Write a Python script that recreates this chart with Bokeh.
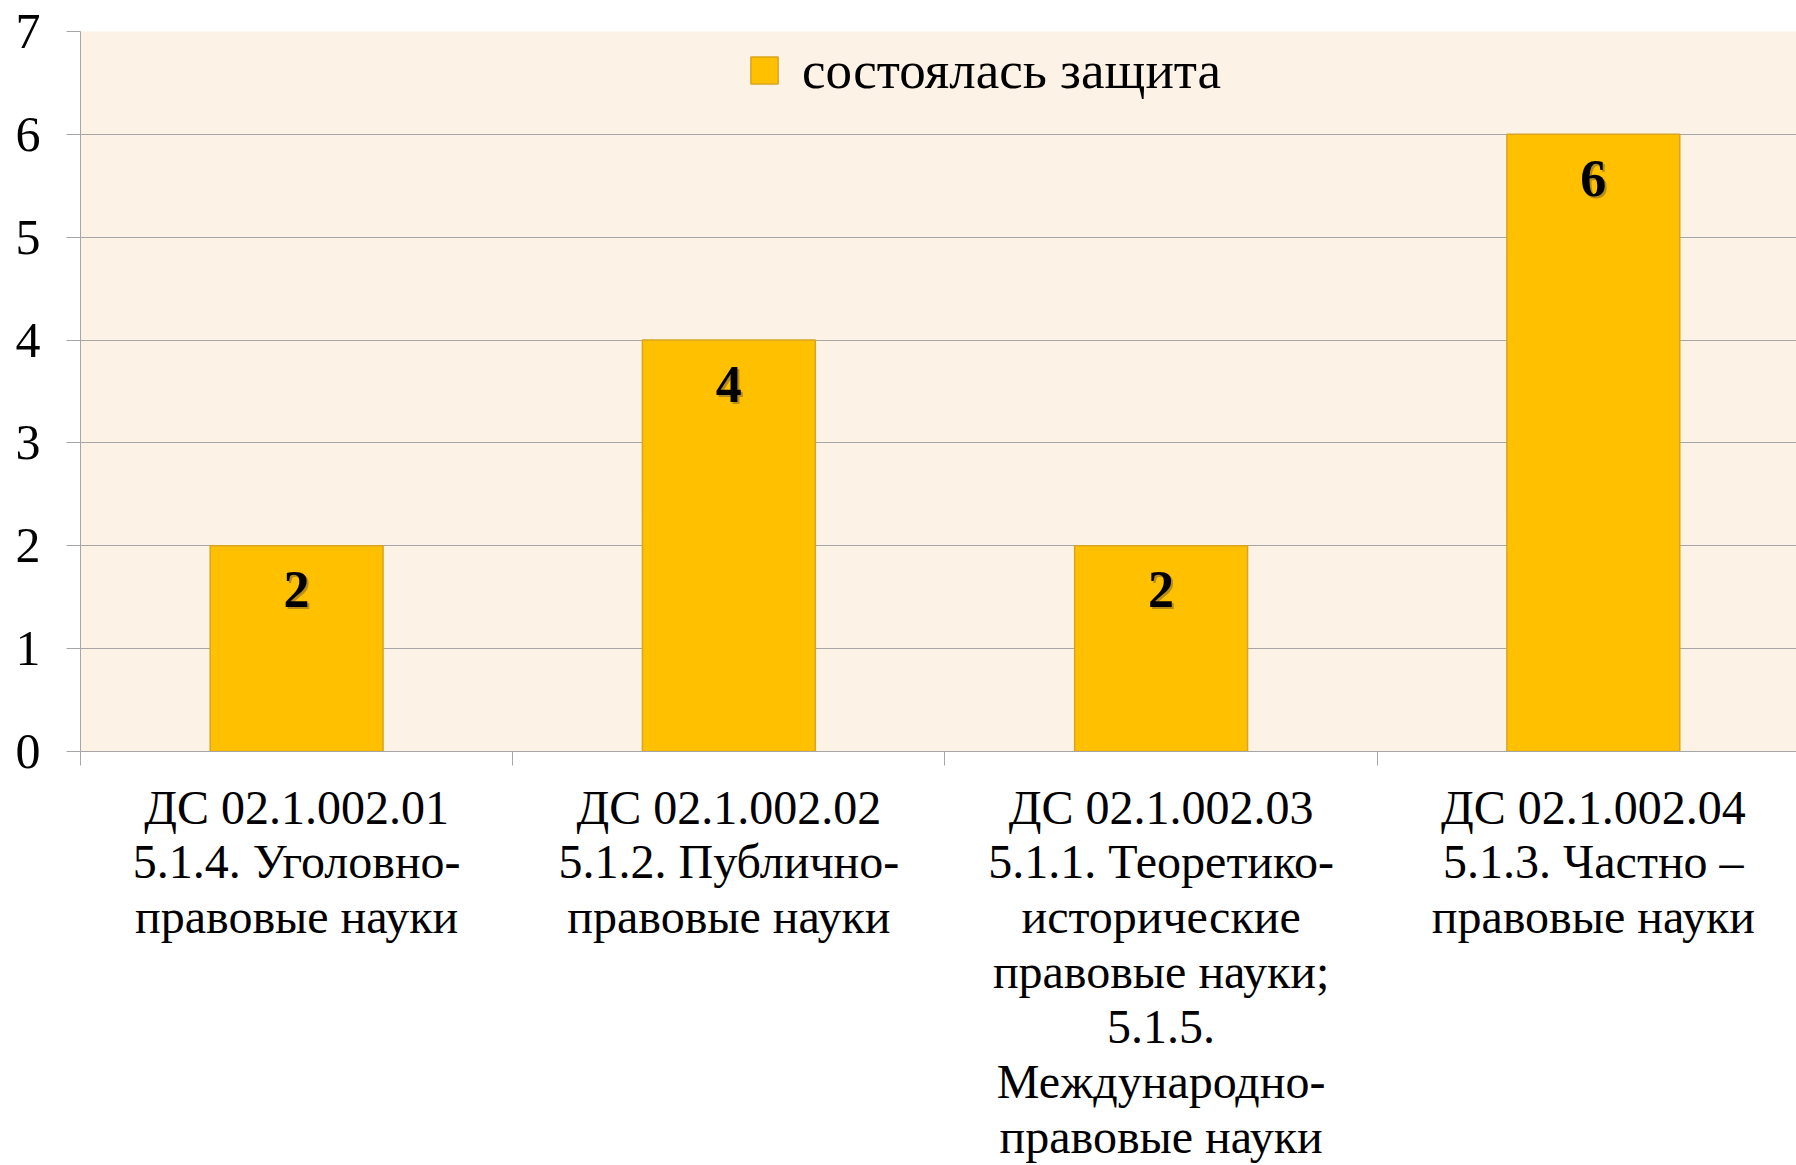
from bokeh.plotting import figure
from bokeh.models import Range1d, FixedTicker, ColumnDataSource, Legend, LegendItem
from bokeh.embed import file_html
from bokeh.resources import INLINE

categories = [
    "ДС 02.1.002.01\n5.1.4. Уголовно-\nправовые науки",
    "ДС 02.1.002.02\n5.1.2. Публично-\nправовые науки",
    "ДС 02.1.002.03\n5.1.1. Теоретико-\nисторические\nправовые науки;\n5.1.5.\nМеждународно-\nправовые науки",
    "ДС 02.1.002.04\n5.1.3. Частно –\nправовые науки",
]
values = [2, 4, 2, 6]
y_ticks = [0, 1, 2, 3, 4, 5, 6, 7]
series_name = "состоялась защита"

FONT = "Liberation Serif"
BAR = "#FFC000"
BAR_EDGE = "#D9A520"
GRID = "#A6A6A6"

n = len(categories)
x_pos = [i + 0.5 for i in range(n)]
src = ColumnDataSource(dict(x=x_pos, top=values, label=[str(v) for v in values]))

p = figure(width=1796, height=1165, x_range=Range1d(0, 3.970), y_range=Range1d(0, 7),
           output_backend="svg", toolbar_location=None,
           min_border_left=80, min_border_right=0, min_border_top=31, min_border_bottom=414)
p.background_fill_color = "#FDF2E6"
p.border_fill_color = "white"
p.outline_line_color = None

r = p.vbar(x="x", top="top", width=0.4, bottom=0, source=src,
           fill_color=BAR, line_color=BAR_EDGE, line_width=1.5)

# value labels with a soft shadow
p.text(x="x", y="top", text="label", source=src, x_offset=2, y_offset=46,
       text_font=FONT, text_font_style="bold", text_font_size="52px",
       text_align="center", text_baseline="middle", text_color="#6b5a30", text_alpha=0.5)
p.text(x="x", y="top", text="label", source=src, x_offset=0, y_offset=44,
       text_font=FONT, text_font_style="bold", text_font_size="52px",
       text_align="center", text_baseline="middle", text_color="black")

# x axis: boundary ticks as minor ticks, category names at centres
xa = p.xaxis[0]
xa.ticker = FixedTicker(ticks=x_pos, minor_ticks=list(range(n + 1)))
xa.major_label_overrides = {xc: cat for xc, cat in zip(x_pos, categories)}
xa.major_tick_line_color = None
xa.major_tick_in = 0
xa.major_tick_out = 14
xa.minor_tick_in = 0
xa.minor_tick_out = 14
xa.minor_tick_line_color = GRID
xa.axis_line_color = GRID
xa.major_label_standoff = 15
xa.major_label_text_font = FONT
xa.major_label_text_font_size = "48px"
xa.major_label_text_line_height = 1.035
xa.major_label_text_color = "black"

ya = p.yaxis[0]
ya.ticker = FixedTicker(ticks=y_ticks)
ya.major_tick_in = 0
ya.major_tick_out = 14
ya.minor_tick_line_color = None
ya.axis_line_color = GRID
ya.major_tick_line_color = GRID
ya.major_label_standoff = 26
ya.major_label_text_font = FONT
ya.major_label_text_font_size = "50px"
ya.major_label_text_color = "black"

p.xgrid.grid_line_color = None
p.ygrid.grid_line_color = GRID
p.ygrid.grid_line_width = 1

legend = Legend(items=[LegendItem(label=series_name, renderers=[r])],
                location=(667, 651), padding=0, margin=0,
                border_line_color=None, background_fill_alpha=0,
                glyph_width=34, glyph_height=34, label_standoff=21,
                label_text_font=FONT, label_text_font_size="53px",
                label_text_color="black")
p.add_layout(legend)

open("out.html", "w").write(file_html(p, INLINE))
